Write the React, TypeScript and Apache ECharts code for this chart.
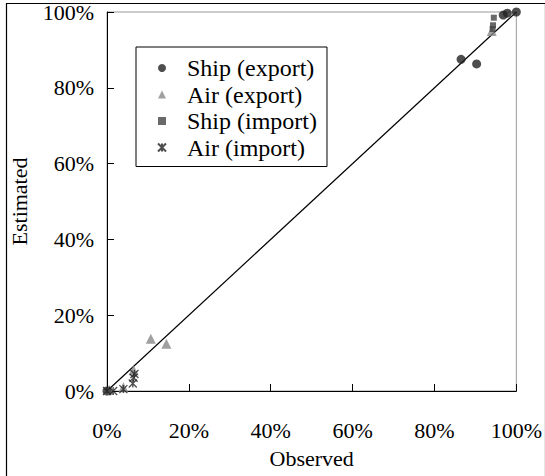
import React, { useEffect, useRef } from "react";
import * as echarts from "echarts";

const seriesNames = ["Ship (export)", "Air (export)", "Ship (import)", "Air (import)"];
const shipExport: number[][] = [[0, 0], [86.5, 87.5], [90.3, 86.3], [96.8, 99.2], [97.8, 99.7], [100, 100]];
const airExport: number[][] = [[0.5, 0.3], [4, 1], [6.5, 5.5], [10.7, 13.8], [14.5, 12.5], [94, 95]];
const shipImport: number[][] = [[0.3, 0.2], [94.2, 95.5], [94.3, 96.5], [94.5, 98.5]];
const airImport: number[][] = [[0, 0], [1.5, 0], [4, 0.5], [6.3, 2], [6.5, 3.5], [6.7, 4.5]];
const diagonal: number[][] = [[0, 0], [100, 100]];

const FONT = "Liberation Serif, Times New Roman, serif";
const STAR = "path://M0,0 L10,10 M10,0 L0,10 M5,0 L5,10";

export default function App() {
  const ref = useRef<HTMLDivElement>(null);
  useEffect(() => {
    if (!ref.current) return;
    const chart = echarts.init(ref.current, undefined, { renderer: "svg" });
    chart.setOption({
      animation: false,
      backgroundColor: "#fff",
      textStyle: { fontFamily: FONT, color: "#000" },
      grid: {
        left: 106, top: 12, width: 411, height: 379,
        show: true, borderColor: "#999", borderWidth: 1, backgroundColor: "transparent",
      },
      legend: {
        orient: "vertical",
        left: 136, top: 47,
        padding: [9, 10, 7, 21],
        borderColor: "#000", borderWidth: 1,
        backgroundColor: "#fff",
        itemWidth: 8, itemHeight: 8, itemGap: 2.5,
        textStyle: { fontFamily: FONT, fontSize: 24, lineHeight: 24, color: "#000", padding: [0, 0, 0, 16] },
        data: seriesNames.map((n) => ({ name: n })),
      },
      xAxis: {
        type: "value", min: 0, max: 100, interval: 20,
        name: "Observed", nameLocation: "middle", nameGap: 56,
        nameTextStyle: { fontFamily: FONT, fontSize: 22, color: "#000" },
        axisLine: { show: true, lineStyle: { color: "#000", width: 1 } },
        axisTick: { show: true, inside: true, length: 7, lineStyle: { color: "#000" } },
        axisLabel: { margin: 28, fontFamily: FONT, fontSize: 22, color: "#000", formatter: "{value}%" },
        splitLine: { show: false },
      },
      yAxis: {
        type: "value", min: 0, max: 100, interval: 20,
        name: "Estimated", nameLocation: "middle", nameGap: 77, nameRotate: 90,
        nameTextStyle: { fontFamily: FONT, fontSize: 22, color: "#000" },
        axisLine: { show: true, lineStyle: { color: "#000", width: 1 } },
        axisTick: { show: true, inside: true, length: 7, lineStyle: { color: "#000" } },
        axisLabel: { margin: 13, fontFamily: FONT, fontSize: 22, color: "#000", formatter: "{value}%" },
        splitLine: { show: false },
      },
      series: [
        {
          type: "line", data: diagonal, symbol: "none", silent: true,
          lineStyle: { color: "#000", width: 1.2 }, z: 1,
        },
        {
          name: seriesNames[0], type: "scatter", data: shipExport, symbol: "circle", symbolSize: 9,
          itemStyle: { color: "#222" }, z: 3,
        },
        {
          name: seriesNames[1], type: "scatter", data: airExport, symbol: "triangle", symbolSize: 10,
          itemStyle: { color: "#888" }, z: 3,
        },
        {
          name: seriesNames[2], type: "scatter", data: shipImport, symbol: "rect", symbolSize: 6,
          itemStyle: { color: "#444" }, z: 4,
        },
        {
          name: seriesNames[3], type: "scatter", data: airImport, symbol: STAR, symbolSize: 8,
          itemStyle: { color: "transparent", borderColor: "#222", borderWidth: 1.3 }, z: 5,
        },
      ],
      graphic: [
        {
          type: "rect", left: 4, top: 1, z: 100, silent: true,
          shape: { x: 0, y: 0, width: 539, height: 473 },
          style: { fill: "none", stroke: "#000", lineWidth: 1.2 },
        },
      ],
    });
    return () => chart.dispose();
  }, []);
  return <div ref={ref} style={{ position: "fixed", left: 0, top: 0, width: 545, height: 476 }} />;
}
